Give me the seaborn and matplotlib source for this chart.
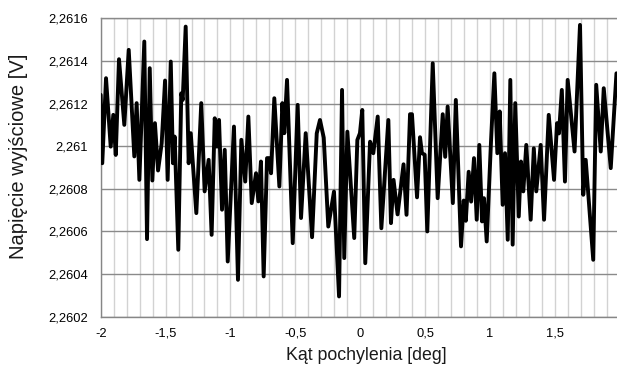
import matplotlib
matplotlib.use("Agg")
import matplotlib.pyplot as plt
from matplotlib.ticker import FixedLocator, MultipleLocator
import pandas as pd
import seaborn as sns

# ---- data ----
angle_deg = [
    -2.000, -1.988, -1.959, -1.923, -1.903, -1.884, -1.859, -1.818, -1.784, -1.741,
    -1.723, -1.702, -1.664, -1.643, -1.622, -1.602, -1.582, -1.558, -1.530, -1.504,
    -1.484, -1.460, -1.443, -1.430, -1.402, -1.379, -1.368, -1.345, -1.322, -1.306,
    -1.263, -1.225, -1.199, -1.168, -1.145, -1.121, -1.104, -1.088, -1.065, -1.044,
    -1.021, -0.973, -0.942, -0.916, -0.886, -0.862, -0.836, -0.803, -0.785, -0.765,
    -0.744, -0.718, -0.703, -0.687, -0.662, -0.623, -0.600, -0.585, -0.564, -0.520,
    -0.482, -0.456, -0.420, -0.371, -0.335, -0.310, -0.281, -0.246, -0.202, -0.163,
    -0.140, -0.123, -0.099, -0.046, -0.022, -0.002, 0.016, 0.039, 0.076, 0.101,
    0.135, 0.163, 0.217, 0.237, 0.257, 0.288, 0.334, 0.357, 0.384, 0.399,
    0.438, 0.461, 0.476, 0.497, 0.517, 0.559, 0.597, 0.636, 0.655, 0.674,
    0.714, 0.737, 0.777, 0.798, 0.814, 0.836, 0.855, 0.877, 0.898, 0.918,
    0.939, 0.954, 0.975, 1.008, 1.034, 1.057, 1.075, 1.098, 1.116, 1.137,
    1.157, 1.175, 1.195, 1.222, 1.239, 1.257, 1.280, 1.314, 1.338, 1.357,
    1.391, 1.417, 1.453, 1.494, 1.517, 1.532, 1.554, 1.578, 1.599, 1.652,
    1.694, 1.719, 1.738, 1.796, 1.819, 1.854, 1.877, 1.931, 1.975,
]
voltage_V = [
    2.261241, 2.260920, 2.261319, 2.260998, 2.261147, 2.260959, 2.261408, 2.261100, 2.261452, 2.260952,
    2.261202, 2.260842, 2.261491, 2.260564, 2.261366, 2.260839, 2.261108, 2.260886, 2.261014, 2.261308,
    2.260842, 2.261397, 2.260920, 2.261045, 2.260514, 2.261248, 2.261217, 2.261561, 2.260920, 2.261061,
    2.260686, 2.261202, 2.260788, 2.260936, 2.260584, 2.261131, 2.260998, 2.261123, 2.260702, 2.260983,
    2.260459, 2.261092, 2.260373, 2.261030, 2.260834, 2.261139, 2.260733, 2.260873, 2.260741, 2.260928,
    2.260389, 2.260944, 2.260944, 2.260873, 2.261225, 2.260811, 2.261202, 2.261061, 2.261311, 2.260545,
    2.261194, 2.260663, 2.261061, 2.260573, 2.261060, 2.261123, 2.261040, 2.260623, 2.260787, 2.260295,
    2.261264, 2.260475, 2.261068, 2.260569, 2.261029, 2.261061, 2.261170, 2.260451, 2.261021, 2.260967,
    2.261139, 2.260615, 2.261123, 2.260639, 2.260842, 2.260680, 2.260915, 2.260678, 2.261150, 2.261150,
    2.260760, 2.261042, 2.260967, 2.260960, 2.260600, 2.261389, 2.260756, 2.261150, 2.260950, 2.261186,
    2.260733, 2.261217, 2.260530, 2.260745, 2.260650, 2.260880, 2.260740, 2.260944, 2.260655, 2.261006,
    2.260647, 2.260756, 2.260553, 2.261020, 2.261342, 2.260967, 2.261163, 2.260725, 2.260967, 2.260561,
    2.261311, 2.260538, 2.261202, 2.260670, 2.260928, 2.260788, 2.261006, 2.260655, 2.260990, 2.260788,
    2.261006, 2.260655, 2.261147, 2.260842, 2.261108, 2.261060, 2.261264, 2.260834, 2.261311, 2.260975,
    2.261569, 2.260772, 2.260936, 2.260467, 2.261288, 2.260975, 2.261272, 2.260897, 2.261342,
]

x_ticks = [-2, -1.5, -1, -0.5, 0, 0.5, 1, 1.5, 2]
x_tick_labels = ["-2", "-1,5", "-1", "-0,5", "0", "0,5", "1", "1,5", "2"]
y_ticks = [2.2602, 2.2604, 2.2606, 2.2608, 2.2610, 2.2612, 2.2614, 2.2616]
y_tick_labels = ["2,2602", "2,2604", "2,2606", "2,2608", "2,261", "2,2612", "2,2614", "2,2616"]

x_title = "Kąt pochylenia [deg]"
y_title = "Napięcie wyjściowe [V]"

df = pd.DataFrame({"angle": angle_deg, "voltage": voltage_V})

sns.set_theme(style="white")
plt.rcParams["font.family"] = ["Liberation Sans", "DejaVu Sans"]

W, H = 617, 374
fig = plt.figure(figsize=(W / 100, H / 100), dpi=100)
fig.patch.set_facecolor("white")
# axes spans x=-2 at 100.7px to x=2 at 619.7px (slightly beyond the right edge, as in the reference)
ax = fig.add_axes([100.7 / W, 1 - 316.7 / H, 519.0 / W, 298.4 / H])
ax.set_facecolor("white")

sns.lineplot(data=df, x="angle", y="voltage", ax=ax, color="black",
             linewidth=2.8, solid_joinstyle="round", solid_capstyle="round",
             sort=False, estimator=None, zorder=5)

ax.set_xlim(-2, 2)
ax.set_ylim(2.2602, 2.2616)

ax.xaxis.set_major_locator(FixedLocator(x_ticks))
ax.set_xticklabels(x_tick_labels)
ax.xaxis.set_minor_locator(MultipleLocator(0.1))
ax.yaxis.set_major_locator(FixedLocator(y_ticks))
ax.set_yticklabels(y_tick_labels)

grid_h = "#8a8a8a"
grid_v = "#d2d2d2"
ax.grid(False)
ax.xaxis.grid(True, which="both", color=grid_v, linewidth=1.0, zorder=0)
ax.yaxis.grid(True, which="major", color=grid_h, linewidth=1.0, zorder=1)
ax.set_axisbelow(True)

for side in ("left", "bottom"):
    ax.spines[side].set_color("#868686")
    ax.spines[side].set_linewidth(1.0)
ax.spines["top"].set_color(grid_h)
ax.spines["top"].set_linewidth(1.0)
ax.spines["right"].set_visible(False)

ax.tick_params(axis="both", which="major", direction="out", length=4, width=1,
               color="#868686", labelsize=9.3, labelcolor="black", pad=4)
ax.tick_params(axis="x", which="minor", length=0)
ax.tick_params(axis="y", which="major", pad=5)

ax.set_xlabel(x_title, fontsize=12.8, color="#1a1a1a")
ax.xaxis.label.set_va("center")
ax.xaxis.set_label_coords((366 - 100.7) / 519.0, (316.7 - 355) / 298.4)

ax.set_ylabel(y_title, fontsize=14.5, color="#1a1a1a")
ax.yaxis.label.set_va("center")
ax.yaxis.set_label_coords((18 - 100.7) / 519.0, (316.7 - 156) / 298.4)

fig.savefig("out.png", dpi=100, facecolor="white")
